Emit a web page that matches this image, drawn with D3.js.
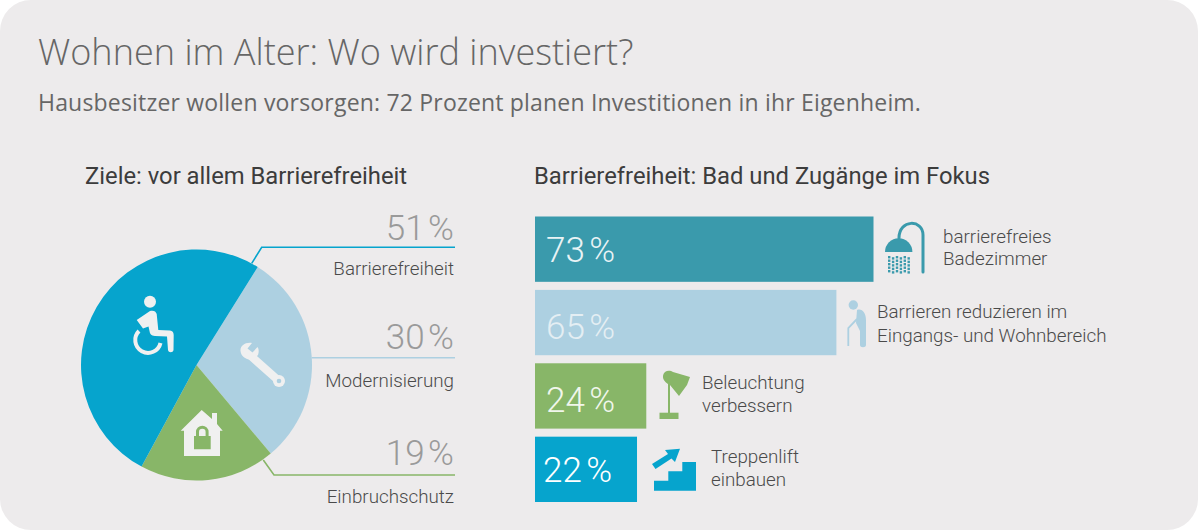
<!DOCTYPE html>
<html>
<head>
<meta charset="utf-8">
<script src="https://cdn.jsdelivr.net/npm/d3@7"></script>
<style>
 html, body { margin: 0; padding: 0; background: #fff; }
 svg { display: block; }
 text { font-family: Roboto, sans-serif; }
</style>
</head>
<body>
<svg id="chart" width="1200" height="530"></svg>
<script>
var pieNames = ["Modernisierung", "Einbruchschutz", "Barrierefreiheit"];
var pieValues = [30, 19, 51];
var pieColors = ["#add0e1", "#88b668", "#06a4cd"];

var barValues = [73, 65, 24, 22];
var barColors = ["#3a9aac", "#add0e1", "#88b668", "#06a4cd"];
var barTextColors = ["#e9f3f5", "#e4eef3", "#f1f6ec", "#ffffff"];

var svg = d3.select("#chart");

svg.append("rect").attr("x", 0).attr("y", 0).attr("width", 1198).attr("height", 530).attr("rx", 31).attr("fill", "#edebec");

function addText(str, x, y, size, color, weight, anchor, family) {
  return svg.append("text")
    .attr("x", x).attr("y", y)
    .attr("font-size", size)
    .attr("fill", color)
    .attr("font-weight", weight || 400)
    .attr("text-anchor", anchor || "start")
    .style("font-family", family || "Roboto, sans-serif")
    .text(str);
}

// headings
addText("Wohnen im Alter: Wo wird investiert?", 38, 65, 36.1, "#666666", 300, "start", "'Open Sans', sans-serif");
addText("Hausbesitzer wollen vorsorgen: 72 Prozent planen Investitionen in ihr Eigenheim.", 38, 110.5, 23, "#666666", 400, "start", "'Open Sans', sans-serif")
  .attr("letter-spacing", 0.19);
addText("Ziele: vor allem Barrierefreiheit", 85, 184, 23.8, "#3c3c3c", 400);
addText("Barrierefreiheit: Bad und Zugänge im Fokus", 534, 184, 23.8, "#3c3c3c", 400);

// pie
var startAngle = 32 * Math.PI / 180;
var pie = d3.pie().sort(null).startAngle(startAngle).endAngle(startAngle + 2 * Math.PI);
var arc = d3.arc().innerRadius(0).outerRadius(115.5);
var pieGroup = svg.append("g").attr("transform", "translate(196.5,365)");
pieGroup.selectAll("path")
  .data(pie(pieValues))
  .enter()
  .append("path")
  .attr("d", arc)
  .attr("fill", (d, i) => pieColors[i]);

// leader lines and pie labels
var leaders = [
  { i: 2, line: "M251.7,263.3L261.7,247.3H455", pctY: 240, nameY: 275 },
  { i: 0, line: "M311.7,357.7H455", pctY: 349, nameY: 386.5 },
  { i: 1, line: "M263.3,460L274,475H455", pctY: 465, nameY: 502.5 }
];
leaders.forEach((l) => {
  svg.append("path").attr("d", l.line).attr("fill", "none").attr("stroke", pieColors[l.i]).attr("stroke-width", 1.6);
  addText(pieValues[l.i] + " %", 454, l.pctY, 35, "#9a9a9a", 300, "end").attr("word-spacing", -5);
  addText(pieNames[l.i], 454, l.nameY, 18.8, "#4a4a4a", 300, "end");
});

// bars
var x = d3.scaleLinear().domain([0, 73]).range([535, 873.5]);
var y = d3.scaleBand().domain(d3.range(barValues.length)).range([216.5, 502]).paddingInner(0.11).paddingOuter(0);
svg.selectAll("rect.bar")
  .data(barValues)
  .enter()
  .append("rect")
  .attr("class", "bar")
  .attr("x", x(0))
  .attr("y", (d, i) => y(i))
  .attr("width", d => x(d) - x(0))
  .attr("height", y.bandwidth())
  .attr("fill", (d, i) => barColors[i]);

var barLabelX = [546, 546, 546, 543];
var barLabelY = [262, 339, 412, 482];
barValues.forEach((v, i) => {
  addText(v + " %", barLabelX[i], barLabelY[i], 35, barTextColors[i], 300).attr("word-spacing", -4);
});

// bar captions
var captions = [
  ["barrierefreies", 943, 243], ["Badezimmer", 943, 265],
  ["Barrieren reduzieren im", 877, 318], ["Eingangs- und Wohnbereich", 877, 342],
  ["Beleuchtung", 702, 389], ["verbessern", 702, 412],
  ["Treppenlift", 711, 463], ["einbauen", 711, 486]
];
captions.forEach((c) => addText(c[0], c[1], c[2], 18.8, "#4a4a4a", 300));

// icons
var white = "#f0f0f0";

// wheelchair
svg.append("circle").attr("cx", 150).attr("cy", 301.7).attr("r", 6).attr("fill", white);
svg.append("path").attr("d", "M136.7,320L150,311C153,310 156,311 156.7,314L158.3,330L170,330.5C172.5,331 173.5,332 173.7,335L173.5,350C173,353 168.5,353 168,350L167,336.5L155,336C151,335.5 150,334 149.5,331L148.5,326.5L143,328.5Z").attr("fill", white);
svg.append("path").attr("d", "M139,331A12.8,12.8 0 1 0 160.5,343").attr("fill", "none").attr("stroke", white).attr("stroke-width", 4);

// wrench
svg.append("path").attr("d", "M252,357L279,381").attr("stroke", white).attr("stroke-width", 8).attr("stroke-linecap", "round");
svg.append("path").attr("d", "M252,343C245,342 240,346 240.5,351C241,357 247,360 253,360L258,355C259,352 259,349 257.5,347L252.5,352.5L247.5,348.5Z").attr("fill", white);
svg.append("circle").attr("cx", 279).attr("cy", 381).attr("r", 6).attr("fill", white);
svg.append("circle").attr("cx", 279).attr("cy", 381).attr("r", 2.3).attr("fill", "#add0e1");

// house with lock
svg.append("path").attr("d", "M201.7,410L212,419V413H217V424L222.7,430.7H220V456H184V430.7H180.7Z").attr("fill", white);
svg.append("path").attr("d", "M194,449.3V436H196V432A6.3,6.3 0 0 1 208.6,432V436H210.7V449.3ZM199,436H205.6V432A3.3,3.3 0 0 0 199,432Z").attr("fill", "#88b668").attr("fill-rule", "evenodd");

// shower
svg.append("path").attr("d", "M923,272V235C923,219 899,219 899,238").attr("fill", "none").attr("stroke", "#3a9aac").attr("stroke-width", 3).attr("stroke-linecap", "round");
svg.append("path").attr("d", "M885,252A13.7,13.7 0 0 1 912.4,252Z").attr("fill", "#3a9aac");
d3.range(6).forEach((c) => {
  d3.range(5).forEach((r) => {
    svg.append("rect").attr("x", 888 + c * 3.9).attr("y", 256 + r * 3.5 + (c % 2) * 1.2).attr("width", 2.4).attr("height", 2.4).attr("fill", "#3a9aac");
  });
});

// person with cane
svg.append("circle").attr("cx", 853.3).attr("cy", 305).attr("r", 4.7).attr("fill", "#add0e1");
svg.append("path").attr("d", "M857,310C862,308 866,313 866,320V345C866,348 860,348 860,345V331L856,323Z").attr("fill", "#add0e1");
svg.append("path").attr("d", "M848.3,346V328L857,319").attr("fill", "none").attr("stroke", "#add0e1").attr("stroke-width", 1.8);

// lamp
svg.append("path").attr("d", "M669,380V413").attr("stroke", "#88b668").attr("stroke-width", 2);
svg.append("rect").attr("x", 659.5).attr("y", 412.7).attr("width", 19).attr("height", 6.3).attr("fill", "#88b668");
svg.append("path").attr("d", "M665,372C668,370 671,371 673,372L690,377L687,385L679,396L670,385C663,382 661,376 665,372Z").attr("fill", "#88b668");

// stairs and arrow
svg.append("path").attr("d", "M654,490.7V480.7H668.3V471.3H682.3V462H696V490.7Z").attr("fill", "#06a4cd");
svg.append("path").attr("d", "M652,464L668,454L665,450L680,448.7L675,462L671.5,458.5L655.5,469Z").attr("fill", "#06a4cd");
</script>
</body>
</html>
